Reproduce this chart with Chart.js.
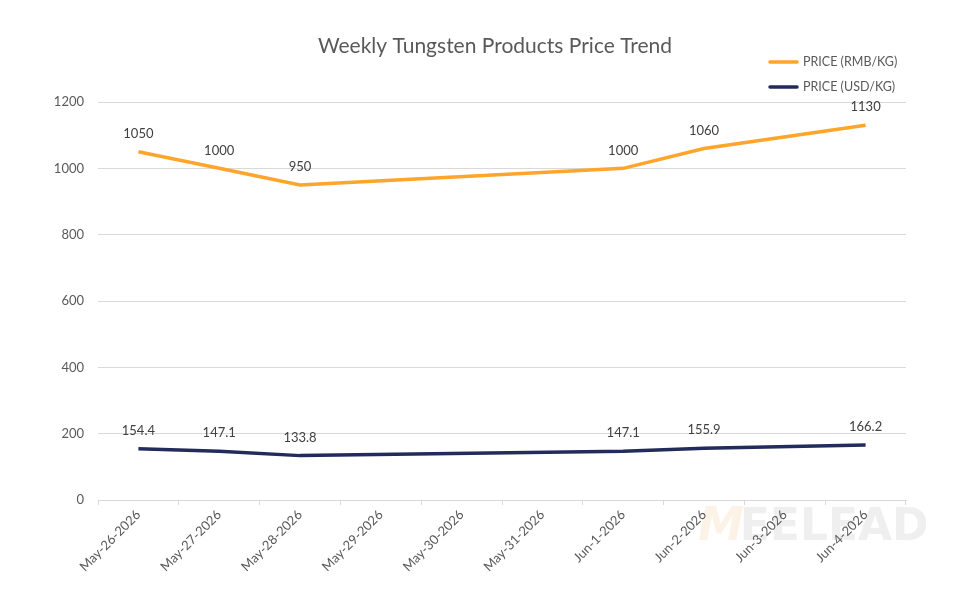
<!DOCTYPE html>
<html>
<head>
<meta charset="utf-8">
<script src="https://cdn.jsdelivr.net/npm/chart.js@4.4.1/dist/chart.umd.min.js"></script>
<style>
  html, body { margin: 0; padding: 0; background: #fff; }
  #wrap { width: 980px; height: 600px; }
</style>
</head>
<body>
<div id="wrap"><canvas id="chart"></canvas></div>
<script>
// chart data
const chartTitle = 'Weekly Tungsten Products Price Trend';
const dates = ['May-26-2026','May-27-2026','May-28-2026','May-29-2026','May-30-2026',
  'May-31-2026','Jun-1-2026','Jun-2-2026','Jun-3-2026','Jun-4-2026'];
const rmbPrices = [1050, 1000, 950, null, null, null, 1000, 1060, null, 1130];
const usdPrices = [154.4, 147.1, 133.8, null, null, null, 147.1, 155.9, null, 166.2];
const yTicks = [0, 200, 400, 600, 800, 1000, 1200];

const ORANGE = '#FFA52B';
const NAVY = '#222B5B';
const TEXT = '#595959';
const FONT = 'Lato, "Open Sans", sans-serif';

// title, drawn a bit right of the canvas centre like the original
const titlePlugin = {
  id: 'titlePlugin',
  afterDraw(chart) {
    const ctx = chart.ctx;
    ctx.save();
    ctx.font = '21px ' + FONT;
    ctx.fillStyle = TEXT;
    ctx.textAlign = 'center';
    ctx.textBaseline = 'middle';
    ctx.fillText(chartTitle, 495, 46);
    ctx.restore();
  }
};

// value labels above each point
const pointLabels = {
  id: 'pointLabels',
  afterDatasetsDraw(chart) {
    const ctx = chart.ctx;
    ctx.save();
    ctx.font = '13px ' + FONT;
    ctx.fillStyle = '#404040';
    ctx.textAlign = 'center';
    ctx.textBaseline = 'middle';
    chart.data.datasets.forEach((ds, i) => {
      const meta = chart.getDatasetMeta(i);
      meta.data.forEach((pt, j) => {
        const v = ds.data[j];
        if (v === null || v === undefined) return;
        ctx.fillText(String(v), pt.x, pt.y - 18);
      });
    });
    ctx.restore();
  }
};

// stacked legend in the top right corner
const cornerLegend = {
  id: 'cornerLegend',
  afterDraw(chart) {
    const ctx = chart.ctx;
    ctx.save();
    ctx.font = '12.5px ' + FONT;
    ctx.textBaseline = 'middle';
    ctx.textAlign = 'left';
    chart.data.datasets.forEach((ds, i) => {
      const y = 62 + i * 25;
      ctx.strokeStyle = ds.borderColor;
      ctx.lineWidth = 3.5;
      ctx.lineCap = 'round';
      ctx.beginPath();
      ctx.moveTo(770, y);
      ctx.lineTo(797, y);
      ctx.stroke();
      ctx.fillStyle = TEXT;
      ctx.fillText(ds.label, 803, y);
    });
    ctx.restore();
  }
};

// faint logo behind the chart
const watermark = {
  id: 'watermark',
  beforeDraw(chart) {
    const ctx = chart.ctx;
    ctx.save();
    ctx.textBaseline = 'alphabetic';
    ctx.textAlign = 'left';
    ctx.font = 'italic bold 46px "DejaVu Sans", sans-serif';
    ctx.fillStyle = 'rgba(252, 232, 210, 0.55)';
    ctx.fillText('M', 698, 540);
    const w = ctx.measureText('M').width;
    ctx.font = 'bold 44px "DejaVu Sans", sans-serif';
    ctx.fillStyle = 'rgba(228, 228, 228, 0.6)';
    ctx.fillText('EELEAD', 698 + w - 4, 540);
    ctx.restore();
  }
};

new Chart(document.getElementById('chart'), {
  type: 'line',
  data: {
    labels: dates,
    datasets: [
      {
        label: 'PRICE (RMB/KG)',
        data: rmbPrices,
        borderColor: ORANGE,
        backgroundColor: ORANGE,
        borderWidth: 3.5,
        pointRadius: 0,
        spanGaps: true,
        tension: 0
      },
      {
        label: 'PRICE (USD/KG)',
        data: usdPrices,
        borderColor: NAVY,
        backgroundColor: NAVY,
        borderWidth: 3.5,
        pointRadius: 0,
        spanGaps: true,
        tension: 0
      }
    ]
  },
  options: {
    responsive: true,
    maintainAspectRatio: false,
    animation: false,
    layout: { padding: { left: 40, right: 74, top: 102, bottom: 0 } },
    plugins: {
      legend: { display: false },
      tooltip: { enabled: false },
      title: { display: false }
    },
    scales: {
      x: {
        offset: true,
        afterFit(scale) { scale.height = 100; },
        grid: {
          display: true,
          drawOnChartArea: false,
          offset: true,
          tickLength: 5,
          color: '#d9d9d9'
        },
        border: { display: true, color: '#d9d9d9', width: 1 },
        ticks: {
          color: TEXT,
          font: { family: FONT, size: 13 },
          minRotation: 45,
          maxRotation: 45,
          autoSkip: false,
          padding: 2
        }
      },
      y: {
        min: 0,
        max: 1200,
        afterFit(scale) { scale.width = 58; },
        afterBuildTicks(scale) { scale.ticks = yTicks.map(v => ({ value: v })); },
        grid: { color: '#d9d9d9', drawTicks: false },
        border: { display: false },
        ticks: {
          color: TEXT,
          font: { family: FONT, size: 13 },
          padding: 14,
          callback: v => String(v)
        }
      }
    }
  },
  plugins: [watermark, pointLabels, cornerLegend, titlePlugin]
});
</script>
</body>
</html>
